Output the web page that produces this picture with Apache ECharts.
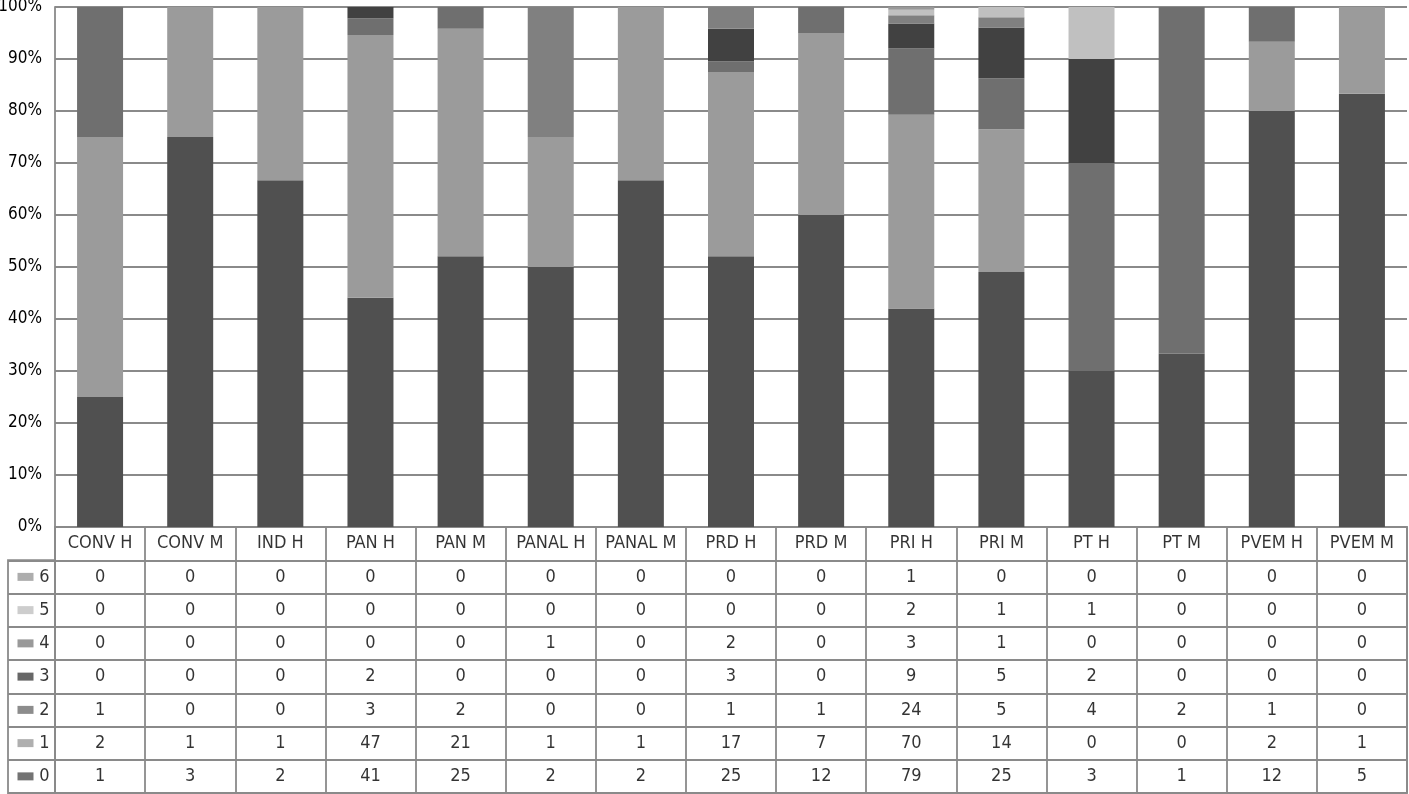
<!DOCTYPE html>
<html>
<head>
<meta charset="utf-8">
<script src="https://cdn.jsdelivr.net/npm/echarts@6/dist/echarts.min.js"></script>
<style>html,body{margin:0;padding:0;background:#fff;}#c{width:1409px;height:794px;}</style>
</head>
<body>
<div id="c"></div>
<script>
const categories = ['CONV H','CONV M','IND H','PAN H','PAN M','PANAL H','PANAL M','PRD H','PRD M','PRI H','PRI M','PT H','PT M','PVEM H','PVEM M'];
const seriesNames = ['0','1','2','3','4','5','6'];
const s0 = [1,3,2,41,25,2,2,25,12,79,25,3,1,12,5];
const s1 = [2,1,1,47,21,1,1,17,7,70,14,0,0,2,1];
const s2 = [1,0,0,3,2,0,0,1,1,24,5,4,2,1,0];
const s3 = [0,0,0,2,0,0,0,3,0,9,5,2,0,0,0];
const s4 = [0,0,0,0,0,1,0,2,0,3,1,0,0,0,0];
const s5 = [0,0,0,0,0,0,0,0,0,2,1,1,0,0,0];
const s6 = [0,0,0,0,0,0,0,0,0,1,0,0,0,0,0];
const yTicks = [0,10,20,30,40,50,60,70,80,90,100];

const values = [s0,s1,s2,s3,s4,s5,s6];
const colors = ['#505050','#9b9b9b','#6f6f6f','#414141','#808080','#c0c0c0','#999999'];
const FONT = '"DejaVu Sans Condensed","Liberation Sans",Arial,sans-serif';
const LINE = '#8a8a8a';

const totals = categories.map((c,i)=>values.reduce((a,v)=>a+v[i],0));
const rowKeys = ['hdr','6','5','4','3','2','1','0'];

const barSeries = values.map((v,k)=>({
  name: seriesNames[k], type:'bar', stack:'all', xAxisIndex:0, yAxisIndex:0,
  barWidth: 46, itemStyle:{color:colors[k]},
  data: v.map((x,i)=> x/totals[i]*100),
  silent:true
}));

const tableData = [];
categories.forEach((c,i)=>{
  tableData.push([c,'hdr',c]);
  for (let k=6;k>=0;k--) tableData.push([c,String(k),String(values[k][i])]);
});

const keyData = seriesNames.slice().reverse().map(n=>({
  value:['k',n,n], itemStyle:{color:colors[+n]}
}));

const chart = echarts.init(document.getElementById('c'), null, {renderer:'canvas'});
chart.setOption({
  animation:false,
  backgroundColor:'#fff',
  grid:[
    {left:55, right:2, top:7, height:520, show:false, outerBoundsMode:'none', containLabel:false},
    {left:55, right:2, top:527, bottom:1, show:true, borderColor:LINE, borderWidth:1.8, backgroundColor:'transparent', outerBoundsMode:'none', containLabel:false},
    {left:8, width:47, top:560.25, bottom:1, show:true, borderColor:LINE, borderWidth:1.8, outerBoundsMode:'none', containLabel:false}
  ],
  xAxis:[
    {gridIndex:0, type:'category', data:categories, axisLine:{show:false}, axisTick:{show:false}, axisLabel:{show:false}},
    {gridIndex:1, type:'category', data:categories, axisLine:{show:false}, axisTick:{show:false}, axisLabel:{show:false},
      splitLine:{show:true, interval:0, lineStyle:{color:LINE, width:1.8}}},
    {gridIndex:2, type:'category', data:['k'], axisLine:{show:false}, axisTick:{show:false}, axisLabel:{show:false}}
  ],
  yAxis:[
    {gridIndex:0, type:'value', min:0, max:100, interval:10,
      axisLine:{show:true, lineStyle:{color:LINE, width:1.8}}, axisTick:{show:false},
      axisLabel:{formatter:v=> yTicks.includes(v)? v+'%':'', color:'#000', fontSize:17, fontFamily:FONT, margin:13},
      splitLine:{show:true, lineStyle:{color:LINE, width:1.8}}},
    {gridIndex:1, type:'category', data:rowKeys, inverse:true, axisLine:{show:false}, axisTick:{show:false}, axisLabel:{show:false},
      splitLine:{show:true, interval:0, lineStyle:{color:LINE, width:1.8}}},
    {gridIndex:2, type:'category', data:seriesNames.slice().reverse(), inverse:true, axisLine:{show:false}, axisTick:{show:false}, axisLabel:{show:false},
      splitLine:{show:true, interval:0, lineStyle:{color:LINE, width:1.8}}}
  ],
  series: barSeries.concat([
    {type:'scatter', xAxisIndex:1, yAxisIndex:1, symbolSize:0, silent:true, data:tableData,
      label:{show:true, position:'inside', formatter:p=>p.value[2], color:'#000', fontSize:18, fontFamily:FONT}},
    {type:'scatter', xAxisIndex:2, yAxisIndex:2, symbol:'rect', symbolSize:[16,8], symbolOffset:[-6,0], silent:true, data:keyData,
      label:{show:true, position:'inside', offset:[19,0], formatter:p=>p.value[2], color:'#000', fontSize:18, fontFamily:FONT}}
  ])
});
</script>
</body>
</html>
